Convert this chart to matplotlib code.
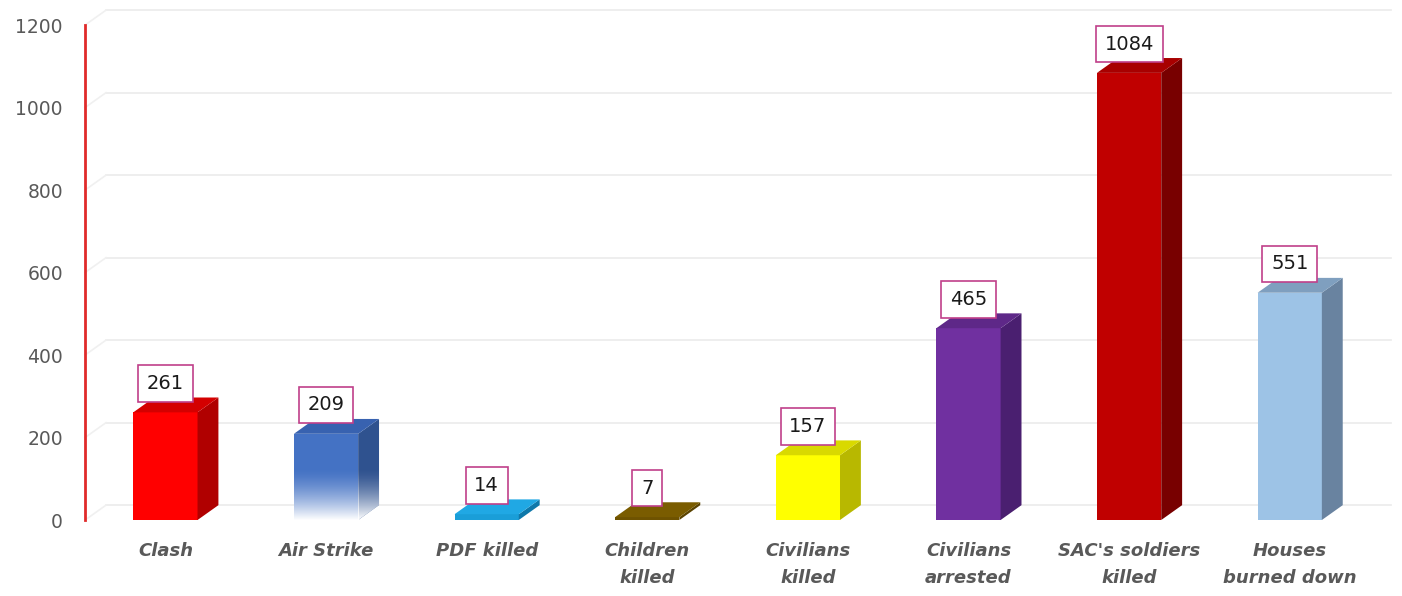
import numpy as np
import matplotlib
matplotlib.use("Agg")
import matplotlib.pyplot as plt
from matplotlib.patches import Polygon

categories = ["Clash", "Air Strike", "PDF killed", "Children\nkilled", "Civilians\nkilled",
              "Civilians\narrested", "SAC's soldiers\nkilled", "Houses\nburned down"]
values = [261, 209, 14, 7, 157, 465, 1084, 551]
front_colors = ["#FF0000", "#4472C4", "#1A9ED8", "#6E5200", "#FFFF00", "#7030A0", "#C00000", "#9DC3E6"]
top_colors = ["#D40000", "#3862B0", "#20A8E4", "#7A5C00", "#D9D900", "#5E2888", "#A80000", "#7F9FBF"]
side_colors = ["#B00000", "#2F528F", "#0E78AA", "#5A4300", "#B8B800", "#4A1F70", "#780000", "#6983A0"]
fade = [False, True, False, False, False, False, False, False]
yticks = [0, 200, 400, 600, 800, 1000, 1200]

fig = plt.figure(figsize=(14.02, 5.96), dpi=100)
ax = fig.add_axes([0.0607, 0.1275, 0.9165, 0.8305])

w = 0.4      # bar width
dx = 0.13    # depth offset (category units)
dy = 36      # depth offset (data units)

# back wall gridlines with short diagonal to the front axis
for t in yticks:
    ax.plot([-0.5 + dx, 7.5 + dx], [t + dy, t + dy], color="#EDEDED", lw=1.3, zorder=0, clip_on=False)
    ax.plot([-0.5, -0.5 + dx], [t, t + dy], color="#F0F0F0", lw=1.2, zorder=0, clip_on=False)

x = np.arange(len(values))
for i, v in enumerate(values):
    xl, xr = x[i] - w / 2, x[i] + w / 2
    front = ax.bar(x[i], v, width=w, color=front_colors[i], zorder=2)[0]
    side = Polygon([(xr, 0), (xr + dx, dy), (xr + dx, v + dy), (xr, v)],
                   closed=True, fc=side_colors[i], ec="none", zorder=2)
    top = Polygon([(xl, v), (xr, v), (xr + dx, v + dy), (xl + dx, v + dy)],
                  closed=True, fc=top_colors[i], ec="none", zorder=2)
    ax.add_patch(side)
    ax.add_patch(top)
    if fade[i]:
        # white fade toward the bottom of the bar
        grad = np.zeros((100, 2, 4))
        grad[..., :3] = 1.0
        grad[..., 3] = np.linspace(0, 1, 100)[:, None] ** 1.5
        for clip in (front, side):
            im = ax.imshow(grad, extent=[xl, xr + dx, 0, v * 0.55 + dy * 0.3], origin="upper",
                           aspect="auto", zorder=3, interpolation="bilinear")
            im.set_clip_path(clip)
    ax.text(x[i], v + 70, str(v), ha="center", va="center", fontsize=14, color="#1A1A1A", zorder=5,
            bbox=dict(boxstyle="square,pad=0.45", fc="white", ec="#C0408A", lw=1.2), clip_on=False)

ax.set_xlim(-0.5, 7.5)
ax.set_ylim(0, 1200)
ax.set_yticks(yticks)
ax.set_xticks(x)
ax.set_xticklabels(categories, fontsize=13, fontweight="bold", fontstyle="italic",
                   color="#595959", linespacing=1.6)
ax.tick_params(axis="x", length=0, pad=16)
ax.tick_params(axis="y", length=0, pad=16, labelsize=13.5, labelcolor="#595959")
for s in ["top", "right", "bottom"]:
    ax.spines[s].set_visible(False)
ax.spines["left"].set_color("#E02A2A")
ax.spines["left"].set_linewidth(2)
ax.patch.set_alpha(0)

fig.savefig("out.png", dpi=100, facecolor="white")
